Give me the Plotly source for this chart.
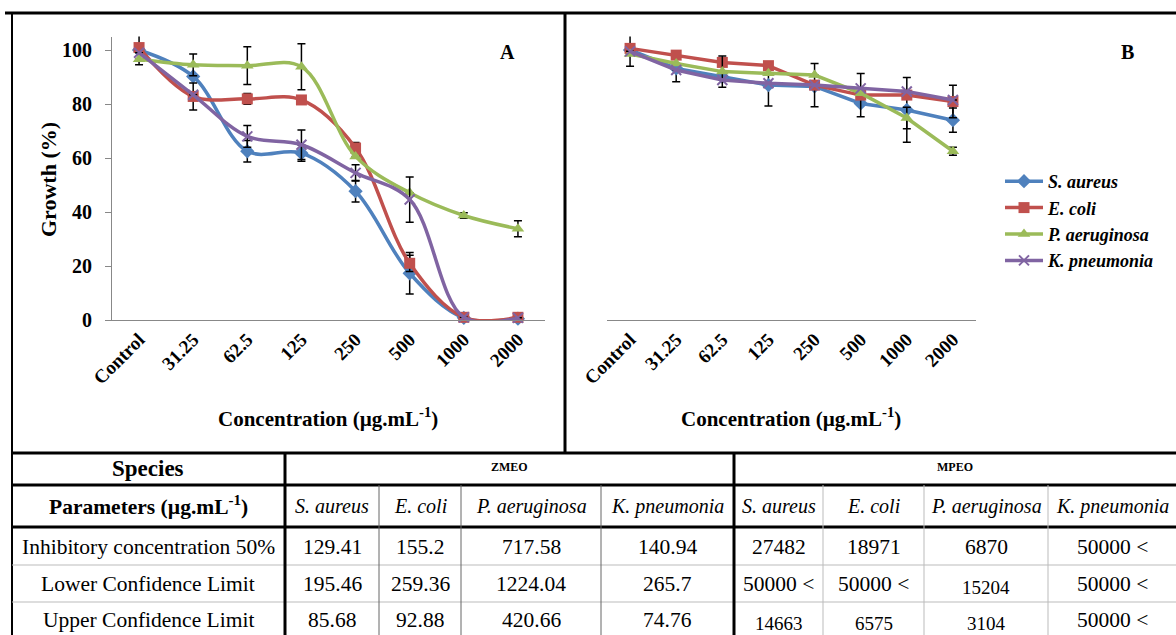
import plotly.graph_objects as go

W, H = 1176, 635
SERIF = "Liberation Serif, Times New Roman, Times, serif"

concentrations = ["Control", "31.25", "62.5", "125", "250", "500", "1000", "2000"]
species = ["S. aureus", "E. coli", "P. aeruginosa", "K. pneumonia"]

# panel A (ZMEO), growth %
zmeo_s_aureus = [100.0, 90.2, 62.5, 61.8, 47.7, 17.3, 0.8, 0.5]
zmeo_e_coli = [100.9, 82.8, 81.9, 81.5, 63.7, 21.0, 1.0, 1.0]
zmeo_p_aeruginosa = [96.6, 94.5, 94.2, 93.8, 60.6, 47.1, 38.7, 33.8]
zmeo_k_pneumonia = [99.0, 83.4, 68.0, 64.9, 54.5, 44.6, 1.0, 0.8]

zmeo_s_aureus_err = [5.5, None, 4, 3, 4, 7.7, None, None]
zmeo_e_coli_err = [None, 5, 2, None, 2, 3, None, None]
zmeo_p_aeruginosa_err = [None, 4, 7, 8.5, None, None, 1, 3]
zmeo_k_pneumonia_err = [None, None, 4, 5.5, 3, 8.4, None, None]

# panel B (MPEO), growth %
mpeo_s_aureus = [100.0, 93.2, 90.1, 87.0, 86.5, 80.2, 77.8, 74.0]
mpeo_e_coli = [100.6, 98.1, 95.4, 94.2, 87.0, 83.3, 83.3, 80.9]
mpeo_p_aeruginosa = [98.5, 95.0, 92.0, 91.4, 90.7, 84.0, 74.8, 62.5]
mpeo_k_pneumonia = [99.5, 92.6, 88.9, 87.7, 87.0, 85.8, 84.6, 81.5]

mpeo_s_aureus_err = [6, 5, None, 7.7, None, None, 12, 4.5]
mpeo_e_coli_err = [None, None, None, None, 8, 8, None, 6]
mpeo_p_aeruginosa_err = [None, None, 5.8, None, None, None, 4, 1.5]
mpeo_k_pneumonia_err = [None] * 8

# table
table_params = ["Inhibitory concentration 50%", "Lower Confidence Limit", "Upper Confidence Limit"]
zmeo_ic50 = ["129.41", "155.2", "717.58", "140.94"]
zmeo_lcl = ["195.46", "259.36", "1224.04", "265.7"]
zmeo_ucl = ["85.68", "92.88", "420.66", "74.76"]
mpeo_ic50 = ["27482", "18971", "6870", "50000 <"]
mpeo_lcl = ["50000 <", "50000 <", "15204", "50000 <"]
mpeo_ucl = ["14663", "6575", "3104", "50000 <"]

colors = ["#4F81BD", "#C0504D", "#9BBB59", "#8064A2"]
symbols = ["diamond", "square", "triangle-up", "x-thin"]


def px(x):
    return x / W


def py(y):
    return 1 - y / H


fig = go.Figure()

panel_a = [zmeo_s_aureus, zmeo_e_coli, zmeo_p_aeruginosa, zmeo_k_pneumonia]
panel_a_err = [zmeo_s_aureus_err, zmeo_e_coli_err, zmeo_p_aeruginosa_err, zmeo_k_pneumonia_err]
panel_b = [mpeo_s_aureus, mpeo_e_coli, mpeo_p_aeruginosa, mpeo_k_pneumonia]
panel_b_err = [mpeo_s_aureus_err, mpeo_e_coli_err, mpeo_p_aeruginosa_err, mpeo_k_pneumonia_err]


def marker(i):
    return dict(symbol=symbols[i], size=11 if i < 3 else 10, color=colors[i],
                line=dict(color=colors[i], width=2 if i == 3 else 0))


for i, name in enumerate(species):
    fig.add_trace(go.Scatter(
        x=concentrations, y=panel_a[i], mode="lines+markers", name=f"<b><i>{name}</i></b>",
        line=dict(color=colors[i], width=3.5, shape="spline", smoothing=1),
        marker=marker(i), cliponaxis=False,
        error_y=dict(type="data", array=panel_a_err[i], color="black", thickness=1.5, width=4),
        xaxis="x", yaxis="y", showlegend=True))
for i, name in enumerate(species):
    fig.add_trace(go.Scatter(
        x=concentrations, y=panel_b[i], mode="lines+markers", name=name,
        line=dict(color=colors[i], width=3.5),
        marker=marker(i), cliponaxis=False,
        error_y=dict(type="data", array=panel_b_err[i], color="black", thickness=1.5, width=4),
        xaxis="x2", yaxis="y2", showlegend=False))

ydom = [py(320), py(36.5)]
tickfont = dict(family=SERIF, size=19, color="black", weight="bold")
xcommon = dict(type="category", categoryorder="array", categoryarray=concentrations,
               range=[-0.5, 7.5], showline=True, linecolor="#888", linewidth=1,
               showgrid=False, zeroline=False, tickangle=-45, tickfont=tickfont, ticks="",
               automargin=False)

fig.update_layout(
    width=W, height=H,
    margin=dict(l=0, r=0, t=0, b=0, autoexpand=False),
    paper_bgcolor="white", plot_bgcolor="white",
    xaxis=dict(domain=[px(112), px(545)], anchor="y", **xcommon),
    yaxis=dict(domain=ydom, anchor="x", range=[0, 105], tickvals=[0, 20, 40, 60, 80, 100],
               showline=True, linecolor="#888", linewidth=1, ticks="outside", ticklen=6,
               tickcolor="#888", showgrid=False, zeroline=False, ticklabelstandoff=9,
               automargin=False,
               tickfont=dict(family=SERIF, size=20, color="black", weight="bold")),
    xaxis2=dict(domain=[px(607), px(976)], anchor="y2", **xcommon),
    yaxis2=dict(domain=ydom, anchor="x2", range=[0, 105], visible=False, automargin=False),
    legend=dict(x=px(1000), y=py(163), xanchor="left", yanchor="top",
                font=dict(family=SERIF, size=18, color="black"),
                bgcolor="rgba(0,0,0,0)", tracegroupgap=0, itemwidth=38),
)

annotations = []


def ann(x, y, text, size, bold=False, italic=False, angle=0):
    if italic:
        text = f"<i>{text}</i>"
    annotations.append(dict(
        x=px(x), y=py(y), xref="paper", yref="paper", text=text, showarrow=False,
        font=dict(family=SERIF, size=size, color="black", weight="bold" if bold else "normal"),
        xanchor="center", yanchor="middle", textangle=angle))


# chart texts
ann(48, 179, "Growth (%)", 22, bold=True, angle=-90)
ann(328, 417, "Concentration (µg.mL<sup>-1</sup>)", 21, bold=True)
ann(791, 417, "Concentration (µg.mL<sup>-1</sup>)", 21, bold=True)
ann(507, 52, "A", 20, bold=True)
ann(1127, 52, "B", 20, bold=True)

# table
col_edges = [12, 285, 379, 461, 601, 734, 823, 924, 1048, 1176]
row_centres = [547, 584, 620]
small_cells = {(1, 6), (2, 4), (2, 5), (2, 6)}

ann((col_edges[0] + col_edges[1]) / 2, 468, "Species", 23, bold=True)
ann((col_edges[1] + col_edges[5]) / 2, 467, "ZMEO", 12, bold=True)
ann((col_edges[5] + col_edges[9]) / 2, 467, "MPEO", 12, bold=True)
ann((col_edges[0] + col_edges[1]) / 2, 505, "Parameters (µg.mL<sup>-1</sup>)", 21.5, bold=True)
for k, name in enumerate(species + species):
    ann((col_edges[k + 1] + col_edges[k + 2]) / 2, 506, name, 20, italic=True)

rows = [(table_params[0], zmeo_ic50 + mpeo_ic50),
        (table_params[1], zmeo_lcl + mpeo_lcl),
        (table_params[2], zmeo_ucl + mpeo_ucl)]
for r, (label, vals) in enumerate(rows):
    yc = row_centres[r]
    ann((col_edges[0] + col_edges[1]) / 2, yc, label, 21.5)
    for k, v in enumerate(vals):
        if (r, k) in small_cells:
            ann((col_edges[k + 1] + col_edges[k + 2]) / 2, yc + 3, v, 19)
        else:
            ann((col_edges[k + 1] + col_edges[k + 2]) / 2, yc, v, 21.5)

shapes = []


def hline(x0, x1, y, w, c="black"):
    shapes.append(dict(type="line", xref="paper", yref="paper", x0=px(x0), x1=px(x1),
                       y0=py(y), y1=py(y), line=dict(color=c, width=w)))


def vline(x, y0, y1, w, c="black"):
    shapes.append(dict(type="line", xref="paper", yref="paper", x0=px(x), x1=px(x),
                       y0=py(y0), y1=py(y1), line=dict(color=c, width=w)))


# frame around charts
hline(5, 1176, 13, 3)
vline(12, 13, 635, 2)
vline(565, 13, 453, 3)
hline(12, 1176, 453, 3)
# table lines
hline(12, 1176, 485, 3)
hline(12, 1176, 527, 3)
hline(12, 1176, 565, 1, "#bbb")
hline(12, 1176, 602, 1, "#bbb")
vline(285, 453, 635, 3)
vline(734, 453, 635, 3)
for x in col_edges[2:5]:
    vline(x, 485, 635, 1, "#666")
for x in col_edges[6:9]:
    vline(x, 485, 635, 1, "#bbb")

fig.update_layout(annotations=annotations, shapes=shapes)
fig.write_html("out.html", config={"displayModeBar": False},
               post_script="document.body.style.margin='0';document.body.style.overflow='hidden';")
